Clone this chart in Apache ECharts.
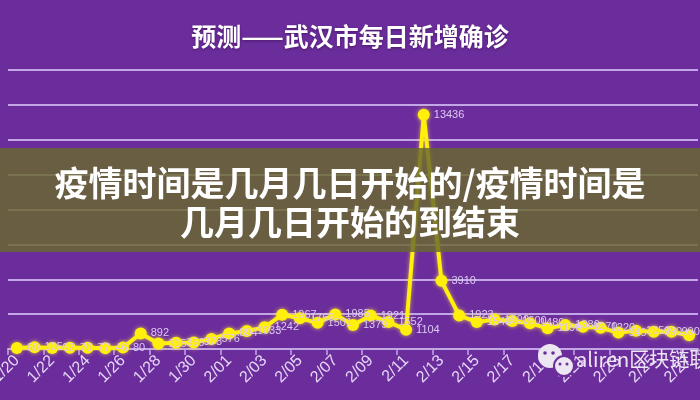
<!DOCTYPE html>
<html>
<head>
<meta charset="utf-8">
<script src="https://cdn.jsdelivr.net/npm/echarts@6/dist/echarts.min.js"></script>
<style>
html,body{margin:0;padding:0;background:#6c2d9c;}
#c{width:700px;height:400px;}
</style>
</head>
<body>
<div id="c"></div>
<script>
const titleText = '预测——武汉市每日新增确诊';
const bannerLine1 = '疫情时间是几月几日开始的/疫情时间是';
const bannerLine2 = '几月几日开始的到结束';
const watermarkText = 'aliren区块链联';

const categories = ['1/20','1/21','1/22','1/23','1/24','1/25','1/26','1/27','1/28','1/29','1/30','1/31',
  '2/01','2/02','2/03','2/04','2/05','2/06','2/07','2/08','2/09','2/10','2/11','2/12','2/13','2/14',
  '2/15','2/16','2/17','2/18','2/19','2/20','2/21','2/22','2/23','2/24','2/25','2/26','2/27'];
const dailyNew = [60,105,62,70,77,46,80,892,315,356,378,576,
  894,1033,1242,1967,1766,1501,1985,1379,1921,1552,1104,13436,3910,1923,
  1548,1690,1600,1480,1190,1380,1270,1220,940,1050,990,990,790];

const yMin = 0, yMax = 16000, yInterval = 2000;

const chart = echarts.init(document.getElementById('c'), null, {renderer:'canvas'});
chart.setOption({
  backgroundColor: '#6c2d9c',
  animation: false,
  title: {
    text: titleText,
    left: 'center',
    top: 19,
    textStyle: {
      color: '#ffffff',
      fontSize: 25,
      fontWeight: 'bold',
      fontFamily: 'Noto Sans CJK SC',
      textShadowColor: 'rgba(40,0,60,0.5)',
      textShadowBlur: 3,
      textShadowOffsetY: 1
    }
  },
  grid: {left: 8, right: 2, top: 70, bottom: 51, containLabel: false, outerBoundsMode: 'none'},
  xAxis: {
    type: 'category',
    data: categories,
    boundaryGap: true,
    axisLine: {lineStyle: {color: '#c3a6e6', width: 2}},
    axisTick: {show: true, interval: 1, length: 6, lineStyle: {color: '#c3a6e6', width: 1.5}},
    axisLabel: {
      interval: 1,
      rotate: 45,
      margin: 9,
      color: '#e6d8f7',
      fontSize: 16,
      fontFamily: 'Liberation Sans'
    }
  },
  yAxis: {
    type: 'value',
    min: yMin, max: yMax, interval: yInterval,
    axisLabel: {show: false},
    axisLine: {show: false},
    axisTick: {show: false},
    splitLine: {lineStyle: {color: '#c3a6e6', width: 2}}
  },
  series: [{
    type: 'line',
    data: dailyNew,
    symbol: 'circle',
    symbolSize: 12,
    showAllSymbol: true,
    lineStyle: {color: '#ffef0a', width: 4, shadowColor: 'rgba(255,240,60,0.6)', shadowBlur: 4},
    itemStyle: {color: '#ffef0a', shadowColor: 'rgba(255,240,60,0.7)', shadowBlur: 4},
    label: {
      show: true,
      position: 'right',
      distance: 4,
      color: '#dccaf3',
      fontSize: 11,
      fontFamily: 'Liberation Sans'
    },
    labelLayout: {hideOverlap: false},
    z: 3
  }],
  graphic: [
    {type: 'rect', z: 100, shape: {x: 0, y: 148, width: 700, height: 104},
     style: {fill: 'rgba(105,104,46,0.82)'}},
    {type: 'text', z: 101, left: 'center', top: 166,
     style: {text: bannerLine1, fill: '#ffffff', font: 'bold 34px "Noto Sans CJK SC"',
             shadowColor: 'rgba(0,0,0,0.35)', shadowBlur: 3}},
    {type: 'text', z: 101, left: 'center', top: 205,
     style: {text: bannerLine2, fill: '#ffffff', font: 'bold 34px "Noto Sans CJK SC"',
             shadowColor: 'rgba(0,0,0,0.35)', shadowBlur: 3}},
    {type: 'circle', z: 100, shape: {cx: 550, cy: 356, r: 12}, style: {fill: '#ece6f2'}},
    {type: 'circle', z: 101, shape: {cx: 564, cy: 366, r: 10}, style: {fill: '#ece6f2', stroke: '#6c2d9c', lineWidth: 2}},
    {type: 'circle', z: 102, shape: {cx: 545, cy: 353, r: 1.8}, style: {fill: '#6c2d9c'}},
    {type: 'circle', z: 102, shape: {cx: 553, cy: 353, r: 1.8}, style: {fill: '#6c2d9c'}},
    {type: 'circle', z: 102, shape: {cx: 560, cy: 364, r: 1.5}, style: {fill: '#6c2d9c'}},
    {type: 'circle', z: 102, shape: {cx: 567, cy: 364, r: 1.5}, style: {fill: '#6c2d9c'}},
    {type: 'text', z: 101, left: 576, top: 349,
     style: {text: watermarkText, fill: '#ece6f2', font: '20px "Noto Sans CJK SC"'}}
  ]
});
</script>
</body>
</html>
